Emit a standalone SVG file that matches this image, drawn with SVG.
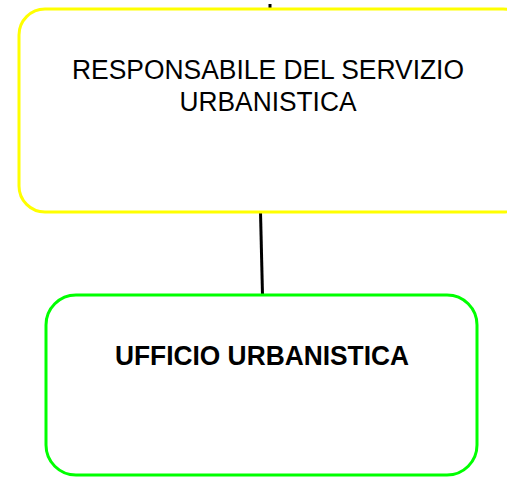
<svg xmlns="http://www.w3.org/2000/svg" width="507" height="477" viewBox="0 0 507 477">
<style>
.box{fill:#fff;stroke-width:3}
.t{font-family:"Liberation Sans",Arial,sans-serif;font-size:27px;fill:#000;text-anchor:middle}
.c{stroke:#000;stroke-width:3;fill:none}
</style>
<rect width="507" height="477" fill="#fff"/>
<g id="connectors">
<line class="c" x1="270" y1="4" x2="270" y2="10" stroke-width="1.5"/>
<line class="c" x1="260.5" y1="212" x2="262.5" y2="295"/>
</g>
<g id="node-responsabile">
<rect class="box" x="19" y="9" width="510" height="203" rx="26" stroke="#ffff00"/>
<text class="t" x="268" y="79" textLength="392" lengthAdjust="spacingAndGlyphs">RESPONSABILE DEL SERVIZIO</text>
<text class="t" x="268" y="111" textLength="177" lengthAdjust="spacingAndGlyphs">URBANISTICA</text>
</g>
<g id="node-ufficio">
<rect class="box" x="46" y="295" width="431" height="180" rx="30" stroke="#00ff00"/>
<text class="t" x="262" y="365" font-size="28" font-weight="bold" textLength="294" lengthAdjust="spacingAndGlyphs">UFFICIO URBANISTICA</text>
</g>
</svg>
